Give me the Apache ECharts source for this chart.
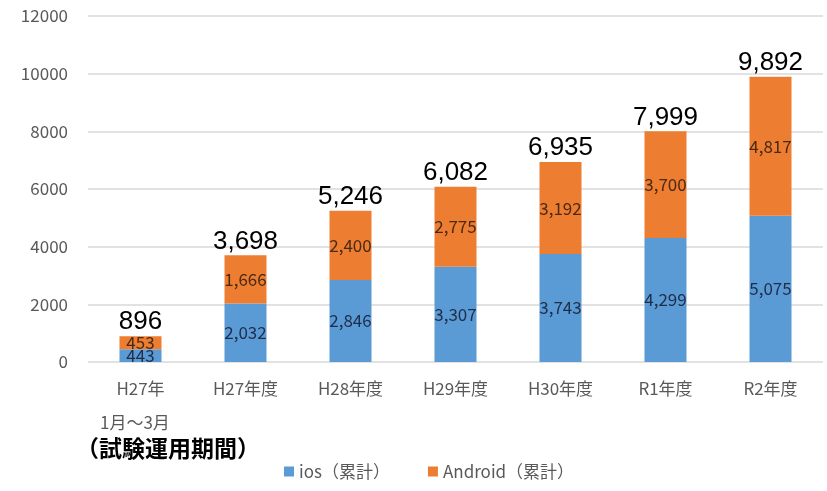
<!DOCTYPE html>
<html>
<head>
<meta charset="utf-8">
<script src="https://cdn.jsdelivr.net/npm/echarts@6/dist/echarts.min.js"></script>
<style>
   html, body { margin: 0; padding: 0; background: #ffffff; }
   #chart { width: 827px; height: 491px; }
</style>
</head>
<body>
<div id="chart"></div>
<script>
// ── Datos ────────────────────────────────────────────────────────────────
const categorias = ["H27年", "H27年度", "H28年度", "H29年度", "H30年度", "R1年度", "R2年度"];
const valoresIos = [443, 2032, 2846, 3307, 3743, 4299, 5075];
const valoresAndroid = [453, 1666, 2400, 2775, 3192, 3700, 4817];
const totales = [896, 3698, 5246, 6082, 6935, 7999, 9892];
const ticksY = [0, 2000, 4000, 6000, 8000, 10000, 12000];

const colores = {
   azul: "#5b9bd5",
   naranja: "#ed7d31",
   gris: "#595959",
   grid: "#d9d9d9"
};

const fuente = "'Noto Sans CJK JP', 'Open Sans', sans-serif";
const fmtNum = v => v.toLocaleString("en-US");

const grafica = echarts.init(document.getElementById("chart"));

grafica.setOption({
   backgroundColor: "#ffffff",
   animation: false,
   grid: { top: 16, left: 88, right: 4, bottom: 129 },
   legend: {
      data: ["ios（累計）", "Android（累計）"],
      bottom: 6,
      left: 279,
      itemWidth: 10,
      itemHeight: 10,
      itemGap: 38,
      icon: "rect",
      textStyle: { fontSize: 17, color: colores.gris, fontFamily: fuente }
   },
   xAxis: {
      type: "category",
      data: categorias,
      axisLine: { show: false },
      axisTick: { show: false },
      axisLabel: { fontSize: 17, color: colores.gris, fontFamily: fuente, margin: 18, interval: 0 }
   },
   yAxis: {
      type: "value",
      min: ticksY[0],
      max: ticksY[ticksY.length - 1],
      interval: 2000,
      axisLine: { show: false },
      axisTick: { show: false },
      splitLine: { lineStyle: { color: colores.grid, width: 1.5 } },
      axisLabel: { fontSize: 17, color: colores.gris, fontFamily: fuente, margin: 20, formatter: v => String(v) }
   },
   series: [
      {
         name: "ios（累計）",
         type: "bar",
         stack: "total",
         barWidth: 42,
         data: valoresIos,
         itemStyle: { color: colores.azul },
         label: {
            show: true, position: "inside", formatter: p => fmtNum(p.value),
            fontSize: 17, color: "#1f2d4a", fontFamily: fuente
         }
      },
      {
         name: "Android（累計）",
         type: "bar",
         stack: "total",
         barWidth: 42,
         data: valoresAndroid,
         itemStyle: { color: colores.naranja },
         label: {
            show: true, position: "inside", formatter: p => fmtNum(p.value),
            fontSize: 17, color: "#4a2a14", fontFamily: fuente
         }
      },
      {
         name: "total",
         type: "bar",
         stack: "total",
         barWidth: 42,
         data: totales.map(() => 0),
         itemStyle: { color: "transparent" },
         label: {
            show: true, position: "top", distance: 1,
            formatter: p => fmtNum(totales[p.dataIndex]),
            fontSize: 26, color: "#000000", fontFamily: "'Liberation Sans', Arial, sans-serif"
         }
      }
   ],
   graphic: [
      {
         type: "text", left: 100, top: 414,
         style: { text: "1月～3月", fontSize: 17, fill: colores.gris, fontFamily: fuente }
      },
      {
         type: "text", left: 76, top: 437,
         style: { text: "（試験運用期間）", fontSize: 23, fontWeight: "bold", fill: "#000000", fontFamily: fuente }
      }
   ]
});
</script>
</body>
</html>
